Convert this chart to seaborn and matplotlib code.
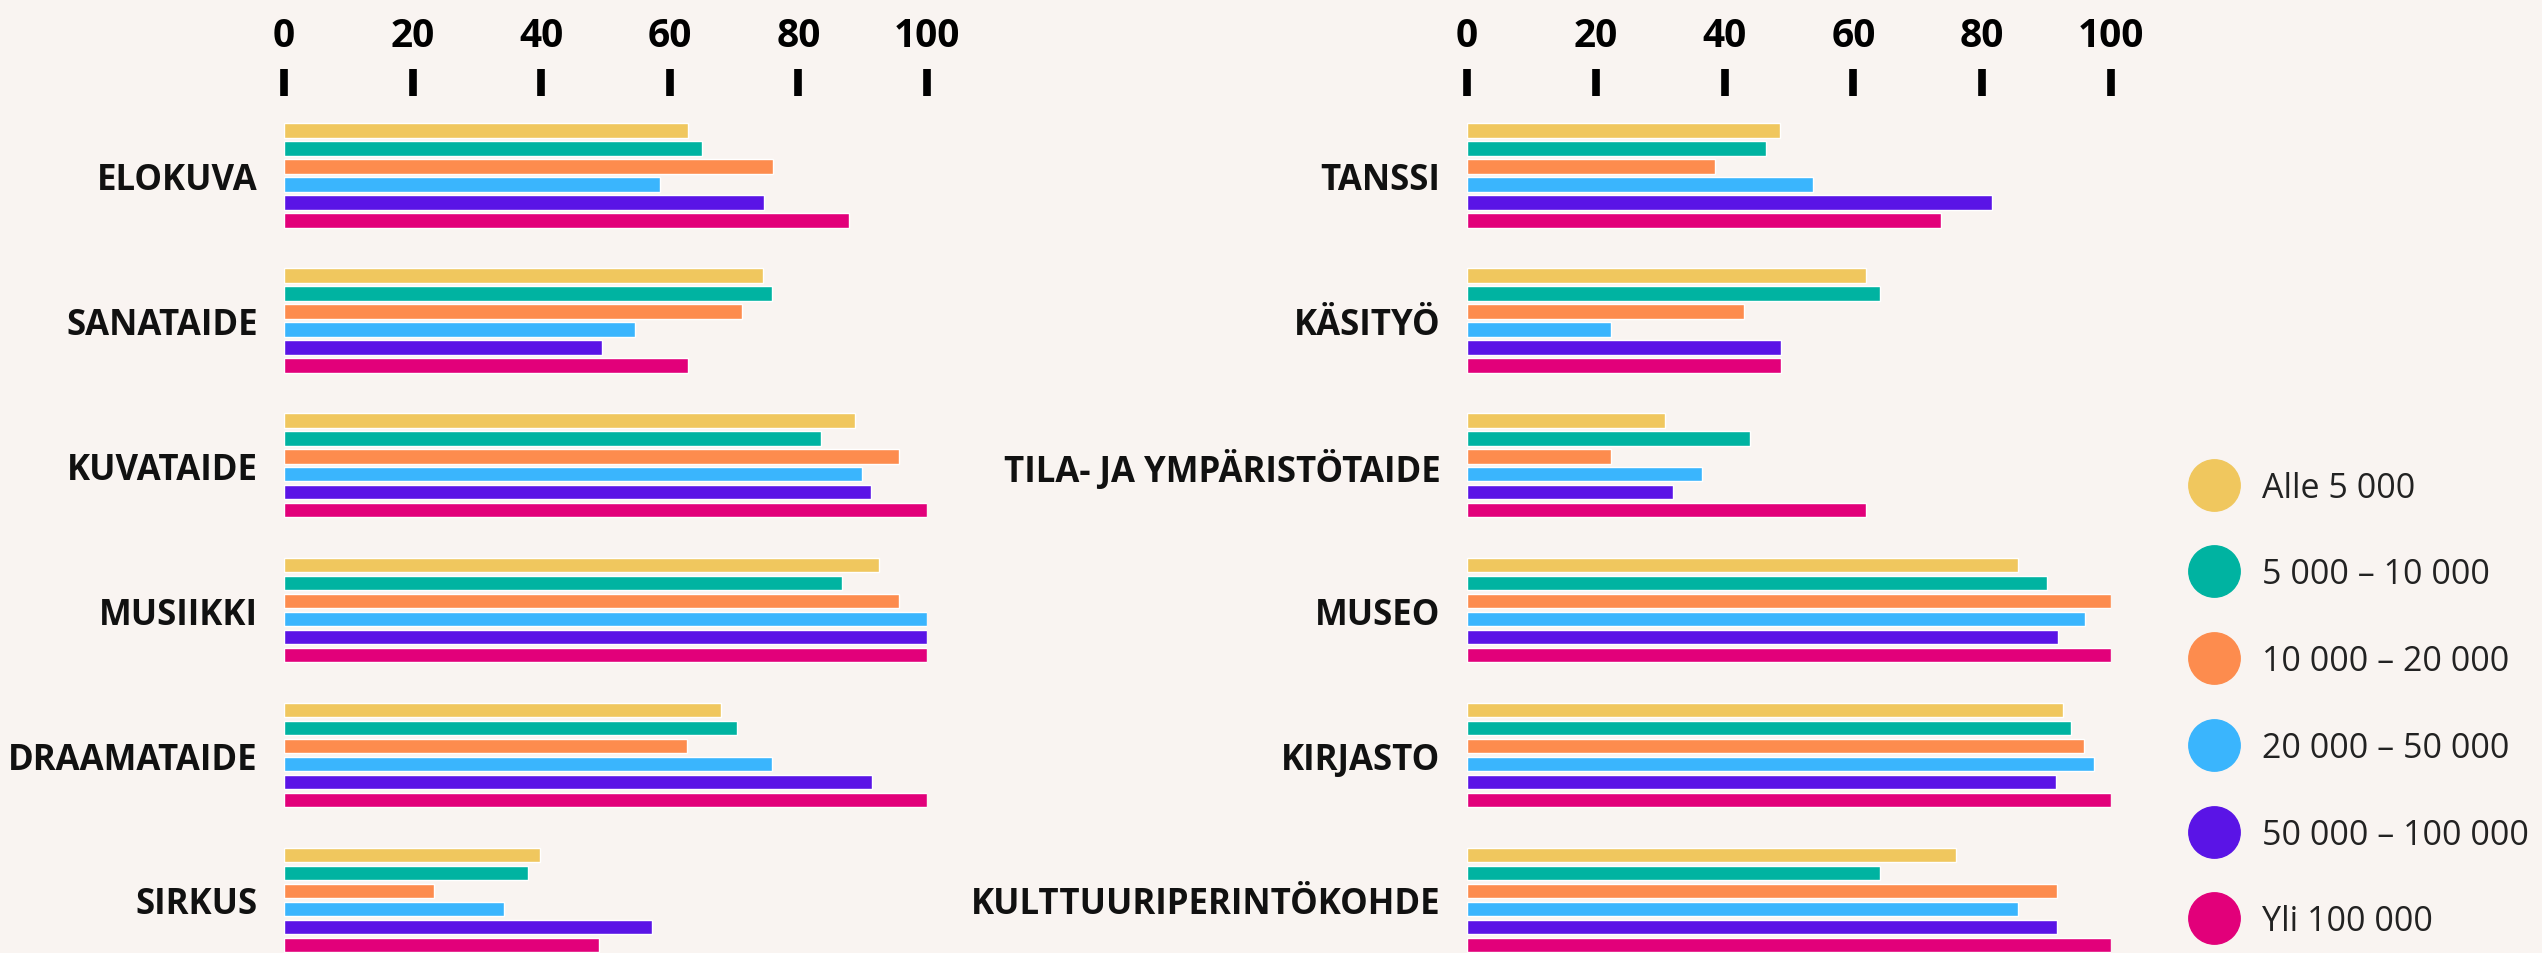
import matplotlib
matplotlib.use("Agg")
import matplotlib.pyplot as plt
from matplotlib.lines import Line2D
import seaborn as sns
import pandas as pd

# ---------------- data ----------------
series = ["Alle 5 000", "5 000 – 10 000", "10 000 – 20 000",
          "20 000 – 50 000", "50 000 – 100 000", "Yli 100 000"]
colors = ["#f0c75e", "#00b3a1", "#fd8c4e", "#3ab5fd", "#5a14e6", "#e2007a"]

left_categories = ["ELOKUVA", "SANATAIDE", "KUVATAIDE", "MUSIIKKI", "DRAAMATAIDE", "SIRKUS"]
left_alle5 =    [62.8, 74.5, 88.8, 92.5, 68.0, 39.8]
left_5_10 =     [65.0, 75.9, 83.5, 86.8, 70.5, 38.0]
left_10_20 =    [76.0, 71.2, 95.6, 95.6, 62.6, 23.4]
left_20_50 =    [58.5, 54.6, 89.9, 100.0, 75.9, 34.2]
left_50_100 =   [74.6, 49.5, 91.3, 100.0, 91.5, 57.2]
left_yli100 =   [87.8, 62.8, 100.0, 100.0, 100.0, 49.0]

right_categories = ["TANSSI", "KÄSITYÖ", "TILA- JA YMPÄRISTÖTAIDE", "MUSEO", "KIRJASTO",
                    "KULTTUURIPERINTÖKOHDE"]
right_alle5 =   [48.6, 62.0, 30.7, 85.5, 92.6, 76.0]
right_5_10 =    [46.5, 64.2, 44.0, 90.0, 93.8, 64.2]
right_10_20 =   [38.5, 43.0, 22.4, 100.0, 95.8, 91.6]
right_20_50 =   [53.8, 22.4, 36.5, 95.9, 97.3, 85.6]
right_50_100 =  [81.5, 48.8, 32.0, 91.8, 91.5, 91.6]
right_yli100 =  [73.6, 48.8, 62.0, 100.0, 100.0, 100.0]

x_ticks = [0, 20, 40, 60, 80, 100]


def long_frame(categories, cols):
    rows = []
    for s, vals in zip(series, cols):
        for c, v in zip(categories, vals):
            rows.append({"category": c, "series": s, "value": v})
    return pd.DataFrame(rows)


df_left = long_frame(left_categories, [left_alle5, left_5_10, left_10_20,
                                       left_20_50, left_50_100, left_yli100])
df_right = long_frame(right_categories, [right_alle5, right_5_10, right_10_20,
                                         right_20_50, right_50_100, right_yli100])

# ---------------- style ----------------
BG = "#f9f4f1"
sns.set_style("white")
plt.rcParams["font.family"] = ["Open Sans", "Liberation Sans", "DejaVu Sans"]

W, H, DPI = 2542, 954, 100
fig = plt.figure(figsize=(W / DPI, H / DPI), dpi=DPI, facecolor=BG)

axes_top_px = 97
first_center_px = 176.5
pitch_px = 144.9
y_top = (axes_top_px - first_center_px) / pitch_px
y_bot = (H - first_center_px) / pitch_px


def make_panel(left_px, width_px, df, cats):
    ax = fig.add_axes([left_px / W, 0, width_px / W, (H - axes_top_px) / H])
    ax.set_facecolor(BG)
    sns.barplot(data=df, y="category", x="value", hue="series", order=cats,
                hue_order=series, palette=colors, orient="h", width=0.745,
                gap=0.2, legend=False, ax=ax, saturation=1, errorbar=None)
    ax.set_xlim(0, 100)
    ax.set_ylim(y_bot, y_top)
    for sp in ax.spines.values():
        sp.set_visible(False)
    ax.set_xlabel("")
    ax.set_ylabel("")
    ax.xaxis.tick_top()
    ax.set_xticks(x_ticks)
    ax.set_xticklabels([str(t) for t in x_ticks])
    ax.tick_params(axis="x", top=True, bottom=False, length=19.5, width=5.5,
                   color="black", pad=10, labelsize=28, labelcolor="black")
    for lab in ax.get_xticklabels():
        lab.set_fontweight("bold")
    ax.tick_params(axis="y", left=False, length=0, pad=19, labelsize=25,
                   labelcolor="#111111")
    for lab in ax.get_yticklabels():
        lab.set_fontweight("bold")
    ax.grid(False)
    return ax


make_panel(284, 643, df_left, left_categories)
make_panel(1467, 644, df_right, right_categories)

handles = [Line2D([], [], marker="o", linestyle="", markersize=37,
                  markerfacecolor=c, markeredgecolor=c) for c in colors]
fig.legend(handles, series, loc="center left",
           bbox_to_anchor=(2188 / W, 248.5 / H), frameon=False,
           fontsize=24.5, labelspacing=1.55, handlelength=1.5,
           handletextpad=0.67, borderpad=0, borderaxespad=0,
           labelcolor="#222222")

fig.savefig("out.png", dpi=DPI, facecolor=BG)
